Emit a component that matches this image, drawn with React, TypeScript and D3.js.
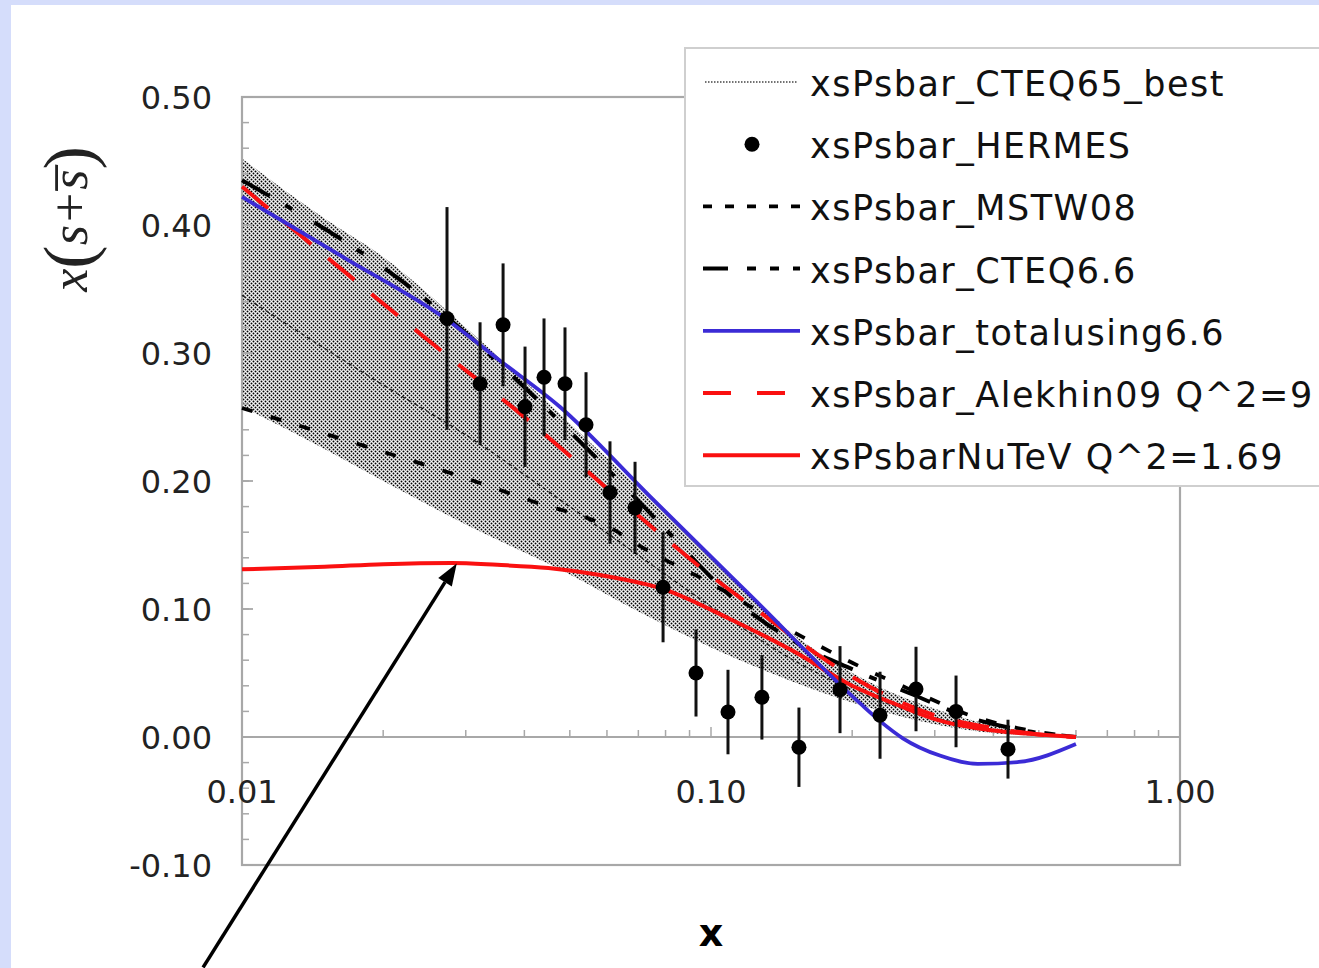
import React from "react";
import * as d3 from "d3";

// ---------- data ----------
const bandX = [0.01, 0.015, 0.02, 0.03, 0.05, 0.07, 0.1, 0.15, 0.2, 0.3, 0.4, 0.5, 0.6];
const bandUpper = [0.452, 0.405, 0.375, 0.32, 0.245, 0.195, 0.14, 0.08, 0.05, 0.022, 0.009, 0.003, 0.001];
const bandLower = [0.258, 0.225, 0.2, 0.166, 0.127, 0.098, 0.07, 0.043, 0.027, 0.01, 0.003, 0.001, 0.0];

const cteq65X = [0.01, 0.02, 0.03, 0.05, 0.07, 0.1, 0.15, 0.2, 0.3, 0.4, 0.5, 0.6];
const cteq65Y = [0.345, 0.275, 0.236, 0.18, 0.142, 0.102, 0.06, 0.037, 0.015, 0.006, 0.002, 0.0];

const mstwX = [0.01, 0.018, 0.0274, 0.041, 0.062, 0.0715, 0.1, 0.15, 0.2, 0.27, 0.35, 0.45, 0.6];
const mstwY = [0.257, 0.228, 0.207, 0.185, 0.162, 0.148, 0.12, 0.082, 0.058, 0.036, 0.018, 0.007, 0.0];

const cteq66X = [0.01, 0.0255, 0.0425, 0.0525, 0.0645, 0.0806, 0.111, 0.155, 0.2, 0.27, 0.35, 0.45, 0.6];
const cteq66Y = [0.435, 0.3375, 0.264, 0.231, 0.198, 0.161, 0.109, 0.072, 0.053, 0.033, 0.016, 0.006, 0.0];

const totalX = [0.01, 0.0166, 0.02736, 0.0355, 0.0476, 0.0741, 0.121, 0.2074, 0.23, 0.2565, 0.3075, 0.3705, 0.4535, 0.6];
const totalY = [0.422, 0.374, 0.326, 0.294, 0.258, 0.188, 0.111, 0.0266, 0.012, -0.001, -0.0145, -0.021, -0.0195, -0.0055];

const alekhinX = [0.01, 0.0276, 0.04, 0.063, 0.0806, 0.1, 0.131, 0.171, 0.2, 0.3, 0.4, 0.5, 0.6];
const alekhinY = [0.43, 0.297, 0.25, 0.1875, 0.154, 0.126, 0.094, 0.063, 0.047, 0.017, 0.007, 0.002, 0.0];

const nutevX = [0.01, 0.015, 0.02, 0.028, 0.035, 0.045, 0.058, 0.08, 0.11, 0.15, 0.2, 0.25, 0.3, 0.4, 0.5, 0.6];
const nutevY = [0.131, 0.133, 0.135, 0.136, 0.1345, 0.132, 0.1265, 0.115, 0.092, 0.067, 0.04, 0.025, 0.014, 0.005, 0.002, 0.0];

const hermesX = [0.02736, 0.03218, 0.03603, 0.04013, 0.04405, 0.04883, 0.05414, 0.0609, 0.06887, 0.07903, 0.0929, 0.1087, 0.1284, 0.154, 0.1884, 0.2293, 0.2736, 0.333, 0.4298];
const hermesY = [0.327, 0.276, 0.322, 0.258, 0.281, 0.276, 0.244, 0.191, 0.179, 0.117, 0.05, 0.0195, 0.031, -0.008, 0.037, 0.017, 0.0375, 0.02, -0.0095];
const hermesErr = [0.087, 0.048, 0.048, 0.047, 0.046, 0.044, 0.041, 0.04, 0.036, 0.043, 0.034, 0.033, 0.033, 0.031, 0.034, 0.034, 0.033, 0.028, 0.023];

const yTicks = [-0.1, 0.0, 0.1, 0.2, 0.3, 0.4, 0.5];
const yTickLabels = ["-0.10", "0.00", "0.10", "0.20", "0.30", "0.40", "0.50"];
const xTicks = [0.01, 0.1, 1];
const xTickLabels = ["0.01", "0.10", "1.00"];

const legendLabels = [
  "xsPsbar_CTEQ65_best",
  "xsPsbar_HERMES",
  "xsPsbar_MSTW08",
  "xsPsbar_CTEQ6.6",
  "xsPsbar_totalusing6.6",
  "xsPsbar_Alekhin09 Q^2=9",
  "xsPsbarNuTeV Q^2=1.69",
];

// annotation arrow (data coordinates): tail -> tip
const arrowFrom = [0.00826, -0.18];
const arrowTo = [0.0287, 0.1355];

// ---------- styles ----------
const BLUE = "#3b2bd6";
const RED = "#fa1010";
const FRAME = "#a8a8a8";
const FONT = "'DejaVu Sans', Verdana, sans-serif";

export default function App() {
  const W = 1319, H = 968;
  const x = d3.scaleLog().domain([0.01, 1]).range([242, 1180]);
  const y = d3.scaleLinear().domain([-0.1, 0.5]).range([865, 97]);

  const line = (xs: number[], ys: number[]) =>
    d3.line<number>().x((_, i) => x(xs[i])).y((d) => y(d)).curve(d3.curveMonotoneX)(ys) as string;

  const area = d3
    .area<number>()
    .x((_, i) => x(bandX[i]))
    .y0((_, i) => y(bandLower[i]))
    .y1((d) => y(d))
    .curve(d3.curveMonotoneX)(bandUpper) as string;

  const minorX: number[] = [];
  [0.01, 0.1].forEach((dec) => {
    for (let k = 2; k <= 9; k++) minorX.push(dec * k);
  });
  const minorY = d3.range(-0.1, 0.5001, 0.02);

  const [x0, y0] = [x(arrowFrom[0]), y(arrowFrom[1])];
  const [x1, y1] = [x(arrowTo[0]), y(arrowTo[1])];
  const ang = Math.atan2(y1 - y0, x1 - x0);
  const ah = 22, aw = 8;
  const bx = x1 - ah * Math.cos(ang), by = y1 - ah * Math.sin(ang);
  const head = `${x1},${y1} ${bx + aw * Math.sin(ang)},${by - aw * Math.cos(ang)} ${bx - aw * Math.sin(ang)},${by + aw * Math.cos(ang)}`;

  const legX0 = 685, legY0 = 48, legRow = 62.2, legFirst = 82;
  const sx0 = 703, sx1 = 800;
  const dots = [[1.5, 1.5], [3.5, 3.5], [-0.5, 3.5], [3.5, -0.5], [-0.5, -0.5]];

  return (
    <svg
      width={W}
      height={H}
      style={{ position: "absolute", left: 0, top: 0, display: "block" }}
      xmlns="http://www.w3.org/2000/svg"
    >
      <defs>
        <pattern id="stip" width="4" height="4" patternUnits="userSpaceOnUse">
          {dots.map((p, i) => (
            <circle key={i} cx={p[0]} cy={p[1]} r={0.95} fill="#000" />
          ))}
        </pattern>
      </defs>
      <rect x={0} y={0} width={W} height={H} fill="#d5ddfb" />
      <rect x={11} y={5} width={W - 11} height={H - 5} fill="#fff" />

      {/* band */}
      <path d={area} fill="url(#stip)" stroke="none" />

      {/* zero line + ticks */}
      <line x1={x(0.01)} x2={x(1)} y1={y(0)} y2={y(0)} stroke={FRAME} strokeWidth={1.8} />
      {minorX.map((v, i) => (
        <line key={"mx" + i} x1={x(v)} x2={x(v)} y1={y(0)} y2={y(0) - 7} stroke={FRAME} strokeWidth={1.5} />
      ))}
      <line x1={x(0.1)} x2={x(0.1)} y1={y(0)} y2={y(0) - 10} stroke={FRAME} strokeWidth={1.5} />

      {/* frame */}
      <rect x={x(0.01)} y={y(0.5)} width={x(1) - x(0.01)} height={y(-0.1) - y(0.5)} fill="none" stroke={FRAME} strokeWidth={2.2} />
      {minorY.map((v, i) => (
        <line key={"my" + i} x1={x(0.01)} x2={x(0.01) + 7} y1={y(v)} y2={y(v)} stroke={FRAME} strokeWidth={1.5} />
      ))}
      {yTicks.map((v, i) => (
        <line key={"yt" + i} x1={x(0.01)} x2={x(0.01) + 11} y1={y(v)} y2={y(v)} stroke={FRAME} strokeWidth={1.8} />
      ))}

      {/* curves */}
      <path d={line(cteq65X, cteq65Y)} fill="none" stroke="#222" strokeWidth={1.3} strokeDasharray="4,3" />
      <path d={line(mstwX, mstwY)} fill="none" stroke="#000" strokeWidth={3.8} strokeDasharray="11,19" />
      <path d={line(cteq66X, cteq66Y)} fill="none" stroke="#000" strokeWidth={4} strokeDasharray="32,18,8,26" />
      <path d={line(nutevX, nutevY)} fill="none" stroke={RED} strokeWidth={4} />
      <path d={line(alekhinX, alekhinY)} fill="none" stroke={RED} strokeWidth={4} strokeDasharray="34,22" />
      <path d={line(totalX, totalY)} fill="none" stroke={BLUE} strokeWidth={3.8} />

      {/* HERMES */}
      {hermesX.map((v, i) => (
        <g key={"h" + i}>
          <line x1={x(v)} x2={x(v)} y1={y(hermesY[i] - hermesErr[i])} y2={y(hermesY[i] + hermesErr[i])} stroke="#111" strokeWidth={3} />
          <circle cx={x(v)} cy={y(hermesY[i])} r={7.5} fill="#000" />
        </g>
      ))}

      {/* tick labels */}
      {yTicks.map((v, i) => (
        <text key={"yl" + i} x={212} y={y(v) + 11.5} textAnchor="end" fontFamily={FONT} fontSize={32} fill="#222">
          {yTickLabels[i]}
        </text>
      ))}
      {xTicks.map((v, i) => (
        <text key={"xl" + i} x={x(v)} y={803} textAnchor="middle" fontFamily={FONT} fontSize={32} fill="#222">
          {xTickLabels[i]}
        </text>
      ))}

      {/* axis titles */}
      <text x={711} y={946} textAnchor="middle" fontFamily={FONT} fontWeight="bold" fontSize={38} fill="#000">
        x
      </text>
      <text
        transform="translate(87,219) rotate(-90)"
        textAnchor="middle"
        fontFamily="'Liberation Serif', 'Times New Roman', serif"
        fontStyle="italic"
        fontSize={52}
        fill="#222"
      >
        <tspan>x</tspan>
        <tspan fontSize={70} fontStyle="normal" dy={5}>(</tspan>
        <tspan dy={-5}>s</tspan>
        <tspan fontStyle="normal" dx={3}>+</tspan>
        <tspan dx={3}>s&#773;</tspan>
        <tspan fontSize={70} fontStyle="normal" dy={5}>)</tspan>
      </text>

      {/* legend */}
      <rect x={legX0} y={legY0} width={700} height={438} fill="#fff" stroke="#cfcfcf" strokeWidth={2} />
      {legendLabels.map((lab, i) => {
        const cy = legFirst + i * legRow;
        let sample: React.ReactNode = null;
        if (i === 0) sample = <line x1={705} x2={798} y1={cy} y2={cy} stroke="#444" strokeWidth={1.3} strokeDasharray="1.5,1.5" />;
        if (i === 1) sample = <circle cx={752} cy={cy} r={7.5} fill="#000" />;
        if (i === 2) sample = <line x1={sx0} x2={sx1} y1={cy} y2={cy} stroke="#000" strokeWidth={3.8} strokeDasharray="9,13" />;
        if (i === 3) sample = <line x1={sx0} x2={sx1} y1={cy} y2={cy} stroke="#000" strokeWidth={4} strokeDasharray="25,19,9,14,9,14" />;
        if (i === 4) sample = <line x1={sx0} x2={sx1} y1={cy} y2={cy} stroke={BLUE} strokeWidth={3.8} />;
        if (i === 5) sample = <line x1={sx0} x2={sx1} y1={cy} y2={cy} stroke={RED} strokeWidth={4} strokeDasharray="28,26" />;
        if (i === 6) sample = <line x1={sx0} x2={sx1} y1={cy} y2={cy} stroke={RED} strokeWidth={4} />;
        return (
          <g key={"lg" + i}>
            {sample}
            <text x={810} y={cy + 14} fontFamily={FONT} fontSize={35} letterSpacing={1.5} fill="#111">
              {lab}
            </text>
          </g>
        );
      })}

      {/* arrow */}
      <line x1={x0} y1={y0} x2={bx} y2={by} stroke="#000" strokeWidth={3.5} />
      <polygon points={head} fill="#000" />
    </svg>
  );
}
